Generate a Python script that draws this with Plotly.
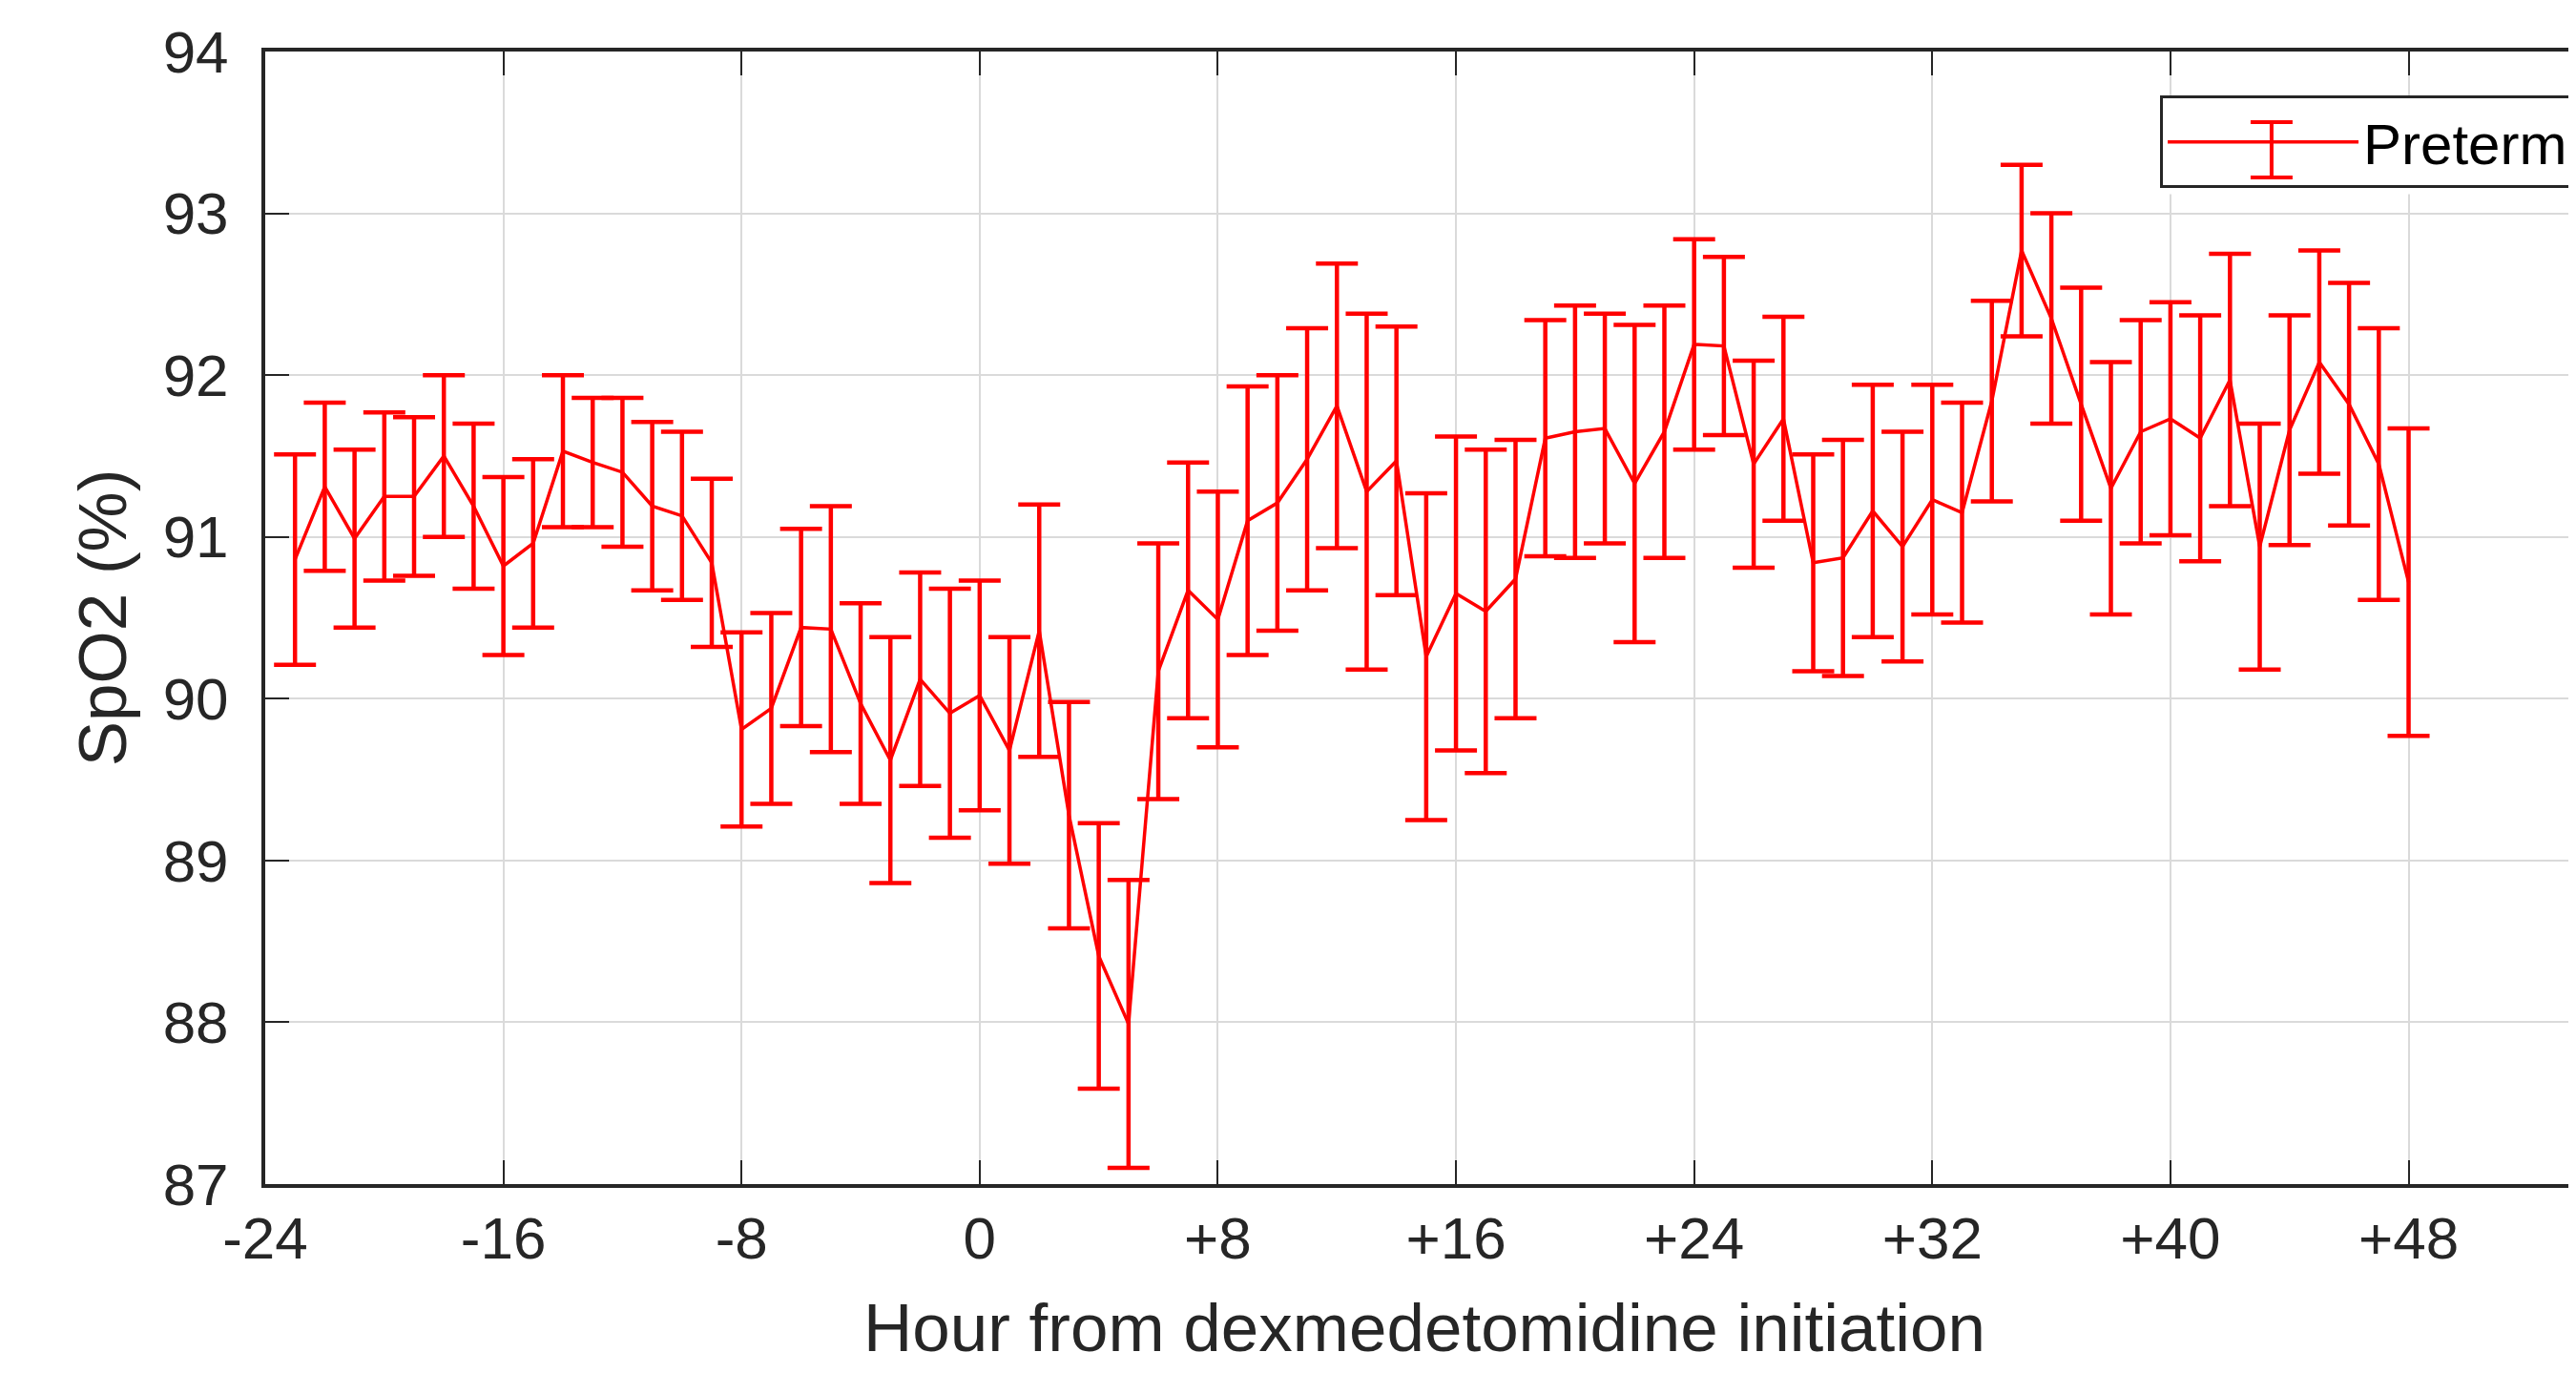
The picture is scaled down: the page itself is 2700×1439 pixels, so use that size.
import plotly.graph_objects as go

# hours relative to dexmedetomidine start
hours = list(range(-23, 49))

spo2_mean = [
    90.86, 91.31, 90.99, 91.25, 91.25, 91.50, 91.19, 90.82, 90.96, 91.53,
    91.46, 91.40, 91.19, 91.13, 90.84, 89.81, 89.94, 90.44, 90.43, 89.97,
    89.62, 90.12, 89.91, 90.02, 89.68, 90.42, 89.28, 88.41, 87.99, 90.17,
    90.67, 90.49, 91.10, 91.21, 91.48, 91.81, 91.28, 91.47, 90.26, 90.65,
    90.54, 90.74, 91.61, 91.65, 91.67, 91.33, 91.65, 92.19, 92.18, 91.45,
    91.73, 90.84, 90.87, 91.16, 90.94, 91.23, 91.15, 91.84, 92.77, 92.35,
    91.82, 91.30, 91.65, 91.73, 91.61, 91.97, 90.94, 91.66, 92.08, 91.82,
    91.45, 90.72,
]

spo2_err = [
    0.65, 0.52, 0.55, 0.52, 0.49, 0.50, 0.51, 0.55, 0.52, 0.47,
    0.40, 0.46, 0.52, 0.52, 0.52, 0.60, 0.59, 0.61, 0.76, 0.62,
    0.76, 0.66, 0.77, 0.71, 0.70, 0.78, 0.70, 0.82, 0.89, 0.79,
    0.79, 0.79, 0.83, 0.79, 0.81, 0.88, 1.10, 0.83, 1.01, 0.97,
    1.00, 0.86, 0.73, 0.78, 0.71, 0.98, 0.78, 0.65, 0.55, 0.64,
    0.63, 0.67, 0.73, 0.78, 0.71, 0.71, 0.68, 0.62, 0.53, 0.65,
    0.72, 0.78, 0.69, 0.72, 0.76, 0.78, 0.76, 0.71, 0.69, 0.75,
    0.84, 0.95,
]

x_ticks = [-24, -16, -8, 0, 8, 16, 24, 32, 40, 48]
x_ticktext = ['-24', '-16', '-8', '0', '+8', '+16', '+24', '+32', '+40', '+48']
y_ticks = [87, 88, 89, 90, 91, 92, 93, 94]

ink = '#262626'
red = '#ff0000'
font = 'Liberation Sans, Arial, sans-serif'

fig = go.Figure()
fig.add_trace(go.Scatter(
    x=hours, y=spo2_mean, mode='lines', name='Preterm',
    line=dict(color=red, width=3.5),
    error_y=dict(type='data', array=spo2_err, visible=True,
                 color=red, thickness=4.5, width=22),
))

# legend background + errorbar glyph (plotly legends only draw the line)
gx, cap = 0.8654, 0.00905
legend_deco = [
    dict(type='rect', xref='paper', yref='paper', x0=0.8175, x1=1.2, y0=0.874, y1=0.960,
         fillcolor='white', line=dict(width=0), layer='above'),
    dict(type='line', xref='paper', yref='paper', x0=gx, x1=gx, y0=0.8888, y1=0.9377,
         line=dict(color=red, width=4)),
    dict(type='line', xref='paper', yref='paper', x0=gx - cap, x1=gx + cap, y0=0.9377, y1=0.9377,
         line=dict(color=red, width=4)),
    dict(type='line', xref='paper', yref='paper', x0=gx - cap, x1=gx + cap, y0=0.8888, y1=0.8888,
         line=dict(color=red, width=4)),
]

fig.update_layout(
    width=2700, height=1439,
    paper_bgcolor='white', plot_bgcolor='white',
    margin=dict(l=270, r=0, t=46, b=206),
    font=dict(family=font, color=ink, size=62),
    showlegend=True,
    legend=dict(x=0.8173, y=0.961, xanchor='left', yanchor='top',
                bordercolor=ink, borderwidth=3, bgcolor='rgba(0,0,0,0)',
                itemwidth=200, font=dict(size=60, color='#000000')),
    shapes=legend_deco,
)
fig.update_xaxes(
    range=[-24, 53.88], tickvals=x_ticks, ticktext=x_ticktext,
    showgrid=True, gridcolor='#dadada', gridwidth=2,
    showline=True, linecolor=ink, linewidth=4, mirror='ticks',
    ticks='inside', ticklen=25, tickwidth=2, tickcolor=ink,
    tickfont=dict(size=62, color=ink), zeroline=False,
    title=dict(text='Hour from dexmedetomidine initiation',
               font=dict(size=71, color=ink), standoff=36),
)
fig.update_yaxes(
    range=[87, 94], tickvals=y_ticks,
    showgrid=True, gridcolor='#dadada', gridwidth=2,
    showline=True, linecolor=ink, linewidth=4, mirror=False,
    ticks='inside', ticklen=25, tickwidth=2, tickcolor=ink,
    ticklabelstandoff=22,
    tickfont=dict(size=62, color=ink), zeroline=False,
    title=dict(text='SpO2 (%)', font=dict(size=71, color=ink), standoff=16),
)

fig.write_html("out.html")
